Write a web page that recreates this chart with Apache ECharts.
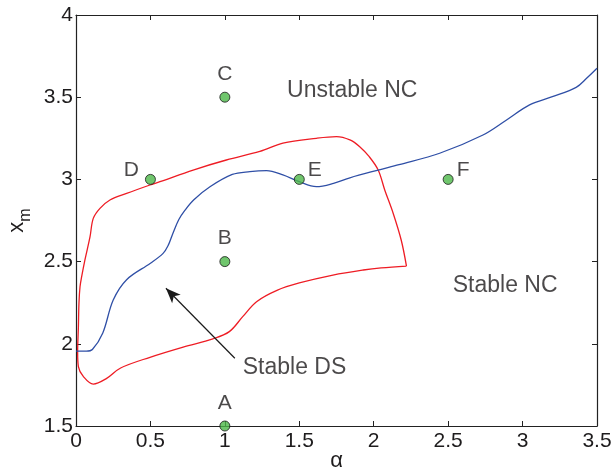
<!DOCTYPE html>
<html><head><meta charset="utf-8">
<script src="https://cdn.jsdelivr.net/npm/echarts@6/dist/echarts.min.js"></script>
<style>html,body{margin:0;padding:0;background:#fff}#c{width:614px;height:470px}</style>
</head><body><div id="c"></div>
<script>
// Blue boundary curve (alpha, x_m)
const blueCurve = [[0.0,1.955],[0.07,1.955],[0.11,1.965],[0.18,2.066],[0.25,2.266],[0.34,2.39],[0.50,2.49],[0.585,2.55],[0.62,2.60],[0.65,2.67],[0.69,2.755],[0.73,2.81],[0.79,2.875],[0.90,2.955],[1.05,3.03],[1.168,3.047],[1.28,3.053],[1.39,3.027],[1.50,2.986],[1.615,2.956],[1.73,2.976],[1.84,3.01],[2.03,3.057],[2.17,3.09],[2.443,3.159],[2.734,3.27],[2.89,3.36],[3.047,3.453],[3.20,3.503],[3.36,3.56],[3.43,3.615],[3.5,3.676]];
// Red closed region boundary (starts and ends at the lower-right corner)
const redCurve = [[2.22,2.473],[2.05,2.462],[1.93,2.449],[1.726,2.418],[1.50,2.37],[1.35,2.325],[1.213,2.256],[1.12,2.165],[1.03,2.074],[0.92,2.03],[0.72,1.98],[0.497,1.918],[0.30,1.853],[0.206,1.79],[0.116,1.755],[0.05,1.80],[0.016,1.861],[0.011,1.95],[0.016,2.10],[0.02,2.25],[0.027,2.347],[0.038,2.408],[0.06,2.51],[0.094,2.65],[0.116,2.763],[0.161,2.824],[0.228,2.875],[0.34,2.915],[0.497,2.966],[0.564,2.986],[0.787,3.057],[1.01,3.118],[1.235,3.17],[1.39,3.22],[1.615,3.25],[1.75,3.26],[1.84,3.24],[1.906,3.199],[1.97,3.138],[2.03,3.057],[2.074,2.936],[2.13,2.796],[2.185,2.63],[2.22,2.473]];
// Labelled points
const pointNames = ['A','B','C','D','E','F'];
const pointX = [1, 1, 1, 0.5, 1.5, 2.5];
const pointY = [1.5, 2.5, 3.5, 3, 3, 3];
const pointLabelPos = ['top','top','top','left','right','right'];
// Region annotations
const regionTexts = ['Unstable NC','Stable NC','Stable DS'];
const regionX = [1.856, 2.883, 1.468];
const regionY = [3.541, 2.352, 1.856];
// Arrow from "Stable DS" text to region
const arrowFrom = [1.067, 1.912];
const arrowTo = [0.604, 2.338];
// Axis ticks
const xMin = 0, xMax = 3.5, xStep = 0.5;
const yMin = 1.5, yMax = 4, yStep = 0.5;

const FONT = '"Liberation Sans", Arial, Helvetica, sans-serif';
const TXT = '#1e1c1d';
const AX = '#222';

const chart = echarts.init(document.getElementById('c'), null, {renderer:'canvas'});
const baseAxis = {
  type:'value', splitLine:{show:false},
  axisLine:{show:true, onZero:false, lineStyle:{color:AX, width:1.2}},
  axisTick:{show:true, inside:true, length:5, lineStyle:{color:AX, width:1}},
};
const pointData = pointNames.map((n,i)=>({
  name:n, value:[pointX[i], pointY[i]],
  label:{position:pointLabelPos[i],
         offset: pointLabelPos[i]==='top' ? [0,-1] : [0,-9],
         distance: pointLabelPos[i]==='left' ? 6 : (pointLabelPos[i]==='right'? 3 : 6)}
}));
const regionData = regionTexts.map((t,i)=>({name:t, value:[regionX[i], regionY[i]]}));

chart.setOption({
  animation:false,
  backgroundColor:'#fff',
  grid:{left:76, right:17, top:15, bottom:44, show:false, containLabel:false, outerBoundsMode:'none'},
  xAxis:[
    Object.assign({}, baseAxis, {position:'bottom', min:xMin, max:xMax, interval:xStep,
      name:'α', nameLocation:'middle', nameGap:24, nameMoveOverlap:false,
      nameTextStyle:{fontFamily:FONT, fontSize:22, color:TXT},
      axisLabel:{fontFamily:FONT, fontSize:21, color:TXT, margin:5, showMinLabel:true, showMaxLabel:true, hideOverlap:false,
        formatter:v=>String(+v.toFixed(2))}}),
    Object.assign({}, baseAxis, {position:'top', min:xMin, max:xMax, interval:xStep, axisLabel:{show:false}})
  ],
  yAxis:[
    Object.assign({}, baseAxis, {position:'left', min:yMin, max:yMax, interval:yStep,
      name:'{x|x}{m|m}', nameLocation:'middle', nameGap:48, nameRotate:90, nameMoveOverlap:false,
      nameTextStyle:{fontFamily:FONT, color:TXT,
        rich:{x:{fontFamily:FONT, fontSize:22, color:TXT, verticalAlign:'top', lineHeight:22},
              m:{fontFamily:FONT, fontSize:16, color:TXT, verticalAlign:'top', lineHeight:16, padding:[12,0,0,0]}}},
      axisLabel:{fontFamily:FONT, fontSize:21, color:TXT, margin:3, showMinLabel:true, showMaxLabel:true, hideOverlap:false,
        formatter:v=>String(+v.toFixed(2))}}),
    Object.assign({}, baseAxis, {position:'right', min:yMin, max:yMax, interval:yStep, axisLabel:{show:false}})
  ],
  series:[
    {type:'line', data:redCurve, showSymbol:false, smooth:0.35, clip:false,
     lineStyle:{color:'#ee1c24', width:1.3}, z:3},
    {type:'line', data:blueCurve, showSymbol:false, smooth:0.35,
     lineStyle:{color:'#2f4fa6', width:1.3}, z:3},
    {type:'scatter', data:regionData, symbolSize:0,
     label:{show:true, position:'inside', formatter:'{b}', fontFamily:FONT, fontSize:23, color:TXT},
     markLine:{silent:true, symbol:['none','arrow'], symbolSize:[9,15], label:{show:false},
       lineStyle:{color:'#1a1a1a', width:1.2, type:'solid'},
       data:[[{coord:arrowFrom},{coord:arrowTo}]]},
     z:4},
    {type:'scatter', data:pointData, symbol:'circle', symbolSize:10,
     itemStyle:{color:'#4cb848', borderColor:'#1a1a1a', borderWidth:1},
     label:{show:true, formatter:'{b}', fontFamily:FONT, fontSize:21, color:TXT},
     z:5}
  ]
});
</script></body></html>
